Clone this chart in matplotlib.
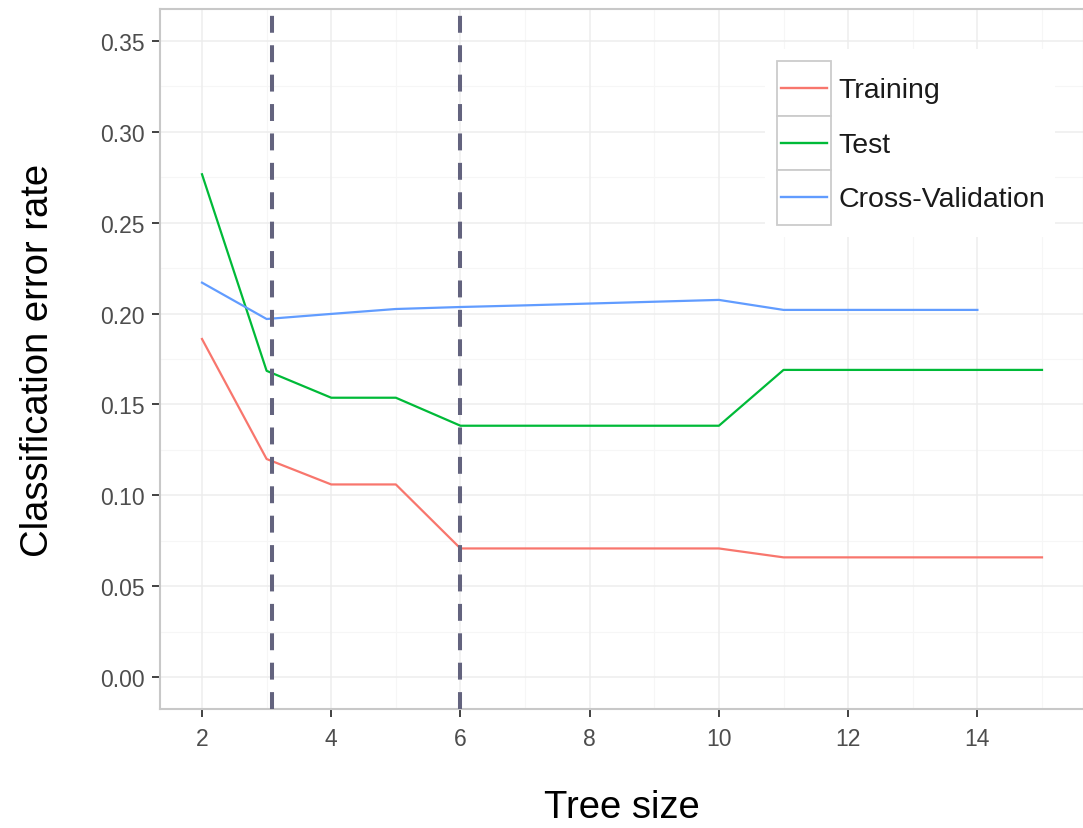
import numpy as np
import matplotlib.pyplot as plt
from matplotlib.patches import Rectangle
from matplotlib.lines import Line2D

plt.rcParams['font.family'] = ['Liberation Sans', 'DejaVu Sans']

# valores
tree_size = [2, 3, 4, 5, 6, 7, 8, 9, 10, 11, 12, 13, 14, 15]
training = [0.186, 0.120, 0.106, 0.106, 0.0708, 0.0708, 0.0708, 0.0708, 0.0708,
            0.0659, 0.0659, 0.0659, 0.0659, 0.0659]
test = [0.2766, 0.1685, 0.1537, 0.1537, 0.1383, 0.1383, 0.1383, 0.1383, 0.1383,
        0.169, 0.169, 0.169, 0.169, 0.169]
cv_size = [2, 3, 4, 5, 6, 7, 8, 9, 10, 11, 12, 13, 14]
cv = [0.217, 0.197, 0.1998, 0.2025, 0.2036, 0.2045, 0.2055, 0.2065, 0.2075,
      0.202, 0.202, 0.202, 0.202]
cortes = [3.08, 6]

series_names = ["Training", "Test", "Cross-Validation"]
colores = ["#F8766D", "#00BA38", "#619CFF"]

W, H = 1083, 829
fig = plt.figure(figsize=(W / 100, H / 100), dpi=100)
ax = fig.add_axes([160 / W, 1 - 710 / H, (1084 - 160) / W, 700 / H])

# rejilla estilo ggplot
for xv in np.arange(3, 16, 2):
    ax.axvline(xv, color="#F6F6F6", lw=0.8, zorder=0)
for yv in np.arange(0.025, 0.36, 0.05):
    ax.axhline(yv, color="#F6F6F6", lw=0.8, zorder=0)
for xv in np.arange(2, 15, 2):
    ax.axvline(xv, color="#EDEDED", lw=1.1, zorder=0)
for yv in np.arange(0, 0.36, 0.05):
    ax.axhline(yv, color="#EDEDED", lw=1.1, zorder=0)

ax.plot(tree_size, training, color=colores[0], lw=1.6, zorder=2)
ax.plot(tree_size, test, color=colores[1], lw=1.6, zorder=2)
ax.plot(cv_size, cv, color=colores[2], lw=1.6, zorder=2)

# lineas de corte discontinuas, dibujadas de arriba hacia abajo
for c in cortes:
    ax.axvline(c, ymin=1, ymax=0, color="#63637E", lw=2.9,
               linestyle=(5.6, (4.2, 3.1)), zorder=3)

ax.set_xlim(1.35, 15.65)
ax.set_ylim(-0.0175, 0.3675)
ax.set_xticks(np.arange(2, 15, 2))
ax.set_yticks(np.arange(0, 0.36, 0.05))
ax.set_yticklabels([f"{v:.2f}" for v in np.arange(0, 0.36, 0.05)])
ax.tick_params(axis="both", length=6, width=1.3, color="#333333",
               labelcolor="#4D4D4D", labelsize=16.5, pad=5)
ax.tick_params(axis="x", pad=7)

for s in ax.spines.values():
    s.set_color("#C8C8C8")
    s.set_linewidth(1.5)

ax.set_xlabel("Tree size", fontsize=27.5, labelpad=28)
ax.set_ylabel("Classification error rate", fontsize=27.5, labelpad=32)


# leyenda manual con cajas como en ggplot
def px(x, y):
    return x / W, 1 - y / H


bx, by = px(765, 238)
fig.patches.append(Rectangle((bx, by), 290 / W, 188 / H, transform=fig.transFigure,
                             facecolor="white", edgecolor="none", zorder=4))
key_top = 62
key_h = 54.5
for i, (nombre, col) in enumerate(zip(series_names, colores)):
    y0 = key_top + i * key_h
    kx, ky = px(777, y0 + key_h)
    fig.patches.append(Rectangle((kx, ky), 54 / W, key_h / H, transform=fig.transFigure,
                                 facecolor="white", edgecolor="#CCCCCC", lw=1.3, zorder=5))
    yc = y0 + key_h / 2
    x1, y1 = px(781, yc)
    x2, _ = px(827, yc)
    fig.lines.append(Line2D([x1, x2], [y1, y1], transform=fig.transFigure,
                            color=col, lw=1.7, zorder=6))
    tx, ty = px(838, yc + 2)
    fig.text(tx, ty, nombre, fontsize=20.5, color="#1A1A1A", va="center", ha="left", zorder=6)

fig.savefig("out.png", dpi=100)
